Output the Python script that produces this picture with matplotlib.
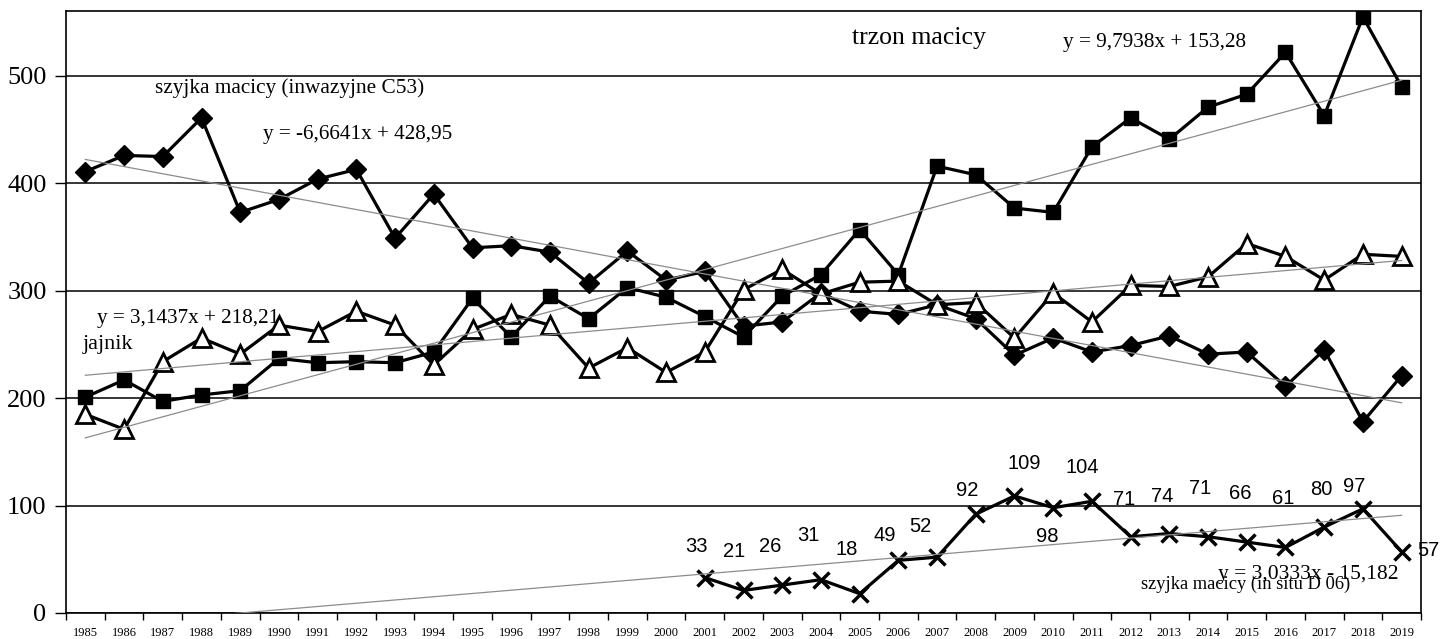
import numpy as np
import matplotlib
matplotlib.use("Agg")
import matplotlib.pyplot as plt

# lata 1985-2019
lata = list(range(1985, 2020))

# szyjka macicy (inwazyjne C53)
szyjka_c53 = [411, 426, 425, 461, 373, 385, 404, 413, 349, 390,
              340, 342, 336, 307, 337, 310, 318, 267, 271, 298,
              281, 278, 287, 274, 240, 256, 243, 249, 258, 241,
              243, 211, 245, 178, 221]

# trzon macicy
trzon = [201, 217, 197, 203, 207, 237, 233, 234, 233, 243,
         293, 257, 295, 274, 303, 294, 276, 257, 295, 315,
         357, 315, 416, 408, 377, 373, 434, 461, 441, 471,
         483, 522, 463, 555, 490]

# jajnik
jajnik = [185, 171, 234, 256, 241, 268, 262, 281, 268, 231,
          264, 278, 268, 228, 247, 224, 243, 301, 320, 297,
          308, 309, 287, 289, 256, 298, 271, 305, 304, 313,
          344, 332, 310, 334, 332]

# szyjka macicy (in situ D06) - od 2001
lata_d06 = list(range(2001, 2020))
szyjka_d06 = [33, 21, 26, 31, 18, 49, 52, 92, 109, 98, 104,
              71, 74, 71, 66, 61, 80, 97, 57]

# rownania trendu (z wykresu)
trend_c53 = (-6.6641, 428.95)
trend_trzon = (9.7938, 153.28)
trend_jajnik = (3.1437, 218.21)
trend_d06 = (3.0333, -15.182)

# przesuniecia etykiet D06 (w punktach)
etykiety_dx = [-6, -7, -9, -9, -9, -10, -12, -6, 7, -4, -7,
               -5, -5, -6, -5, -2, -2, -6, 19]
etykiety_dy = [22, 28, 28, 32, 32, 18, 22, 17, 23, -21, 24,
               27, 27, 35, 35, 35, 27, 16, 1]

serif = "Liberation Serif"
sans = "Liberation Sans"

x = np.arange(1, len(lata) + 1)
x_d06 = np.array([lata.index(r) + 1 for r in lata_d06])

fig = plt.figure(figsize=(14.54, 6.39), dpi=100)
ax = fig.add_axes([0.0454, 0.0407, 0.9319, 0.9421])

ax.set_xlim(0.5, len(lata) + 0.5)
ax.set_ylim(0, 560.5)

# siatka
ax.set_yticks([0, 100, 200, 300, 400, 500])
ax.yaxis.grid(True, color="black", linewidth=1.1)
ax.set_axisbelow(True)

# linie trendu
xt = np.array([1, len(lata)])
for a, b in [trend_c53, trend_trzon, trend_jajnik, trend_d06]:
    ax.plot(xt, a * xt + b, color="#8c8c8c", linewidth=0.9, zorder=4)

# serie
ax.plot(x, szyjka_c53, color="black", linewidth=2.3, marker="D",
        markersize=10, markerfacecolor="black", zorder=3)
ax.plot(x, trzon, color="black", linewidth=2.3, marker="s",
        markersize=10.5, markerfacecolor="black", zorder=3)
ax.plot(x, jajnik, color="black", linewidth=2.3, marker="^",
        markersize=13, markerfacecolor="white", markeredgewidth=2, zorder=3)
ax.plot(x_d06, szyjka_d06, color="black", linewidth=2.3, marker="x",
        markersize=12, markeredgewidth=2.5, zorder=3)

# etykiety danych
for xi, v, dx, dy in zip(x_d06, szyjka_d06, etykiety_dx, etykiety_dy):
    ax.annotate(str(v), (xi, v), xytext=(dx, dy), textcoords="offset points",
                ha="center", va="center", fontsize=14.5, family=sans,
                zorder=6)

# opisy (pozycje w pikselach od lewego gornego rogu)
opisy = [
    (155, 88, "szyjka macicy (inwazyjne C53)", 15.3),
    (263, 135, "y = -6,6641x + 428,95", 15.2),
    (852, 38, "trzon macicy", 18.5),
    (1063, 42, "y = 9,7938x + 153,28", 15.3),
    (97, 318, "y = 3,1437x + 218,21", 15.2),
    (83, 345, "jajnik", 16),
    (1218, 574, "y = 3,0333x - 15,182", 15.5),
    (1141, 584, "szyjka macicy (in situ D 06)", 13.3),
]
for px, py, tekst, fs in opisy:
    fig.text(px / 1454, 1 - py / 639, tekst, fontsize=fs, family=serif,
             va="center", ha="left", zorder=7)

# osie
ax.set_xticks(x)
ax.set_xticklabels([str(r) for r in lata], fontsize=9, family=serif)
ax.set_xticks(np.arange(0.5, len(lata) + 1, 1), minor=True)
ax.tick_params(axis="x", which="major", length=0, pad=10)
ax.tick_params(axis="x", which="minor", length=5, width=1, direction="out")
ax.tick_params(axis="y", length=8, width=1, direction="out", pad=6)
for lab in ax.get_yticklabels():
    lab.set_fontsize(19)
    lab.set_family(serif)

for s in ax.spines.values():
    s.set_color("black")
    s.set_linewidth(1.2)

fig.savefig("out.png", dpi=100)
